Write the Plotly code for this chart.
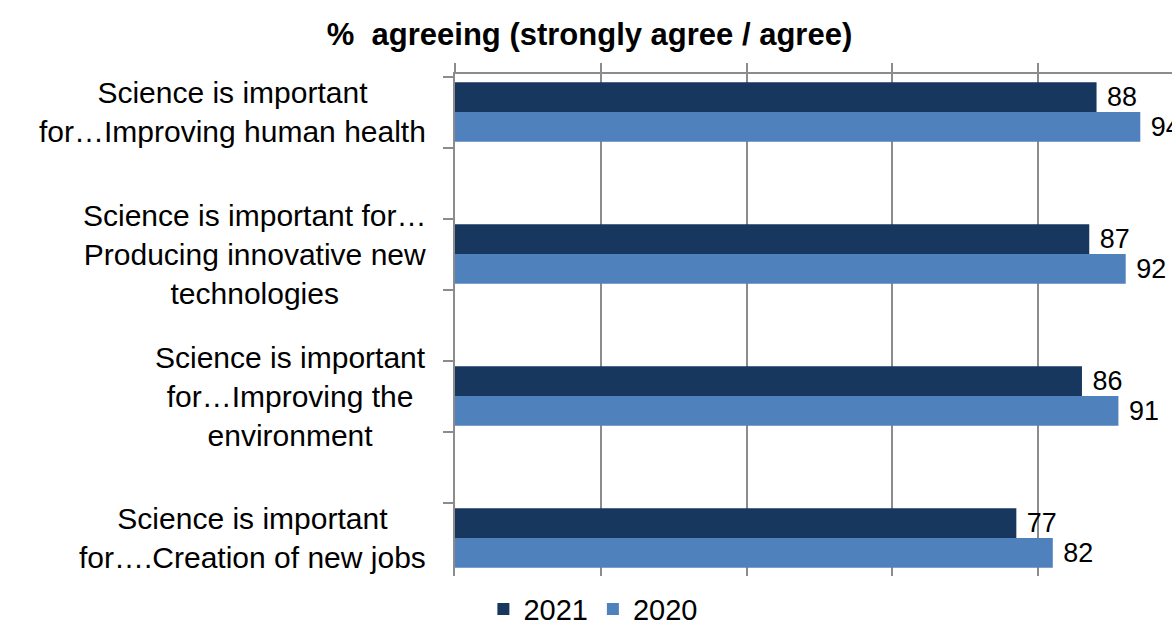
import plotly.graph_objects as go

# Survey statements (top to bottom) and agreement shares
statements = [
    "Science is important<br>for…Improving human health",
    "Science is important for…<br>Producing innovative new<br>technologies",
    "Science is important<br>for…Improving the<br>environment",
    "Science is important<br>for….Creation of new jobs",
]
agree_2021 = [88, 87, 86, 77]
agree_2020 = [94, 92, 91, 82]

# Blank spacer rows between the statements
spacers = [" ", "  ", "   "]
row_order = [statements[0], spacers[0], statements[1], spacers[1],
             statements[2], spacers[2], statements[3]]

FONT = "Liberation Sans, Arial, sans-serif"
GRID = "#8c8c8c"
DARK = "#17375E"
LIGHT = "#4F81BD"

fig = go.Figure()
fig.add_trace(go.Bar(
    name="2021", y=statements, x=agree_2021, orientation="h",
    marker=dict(color=DARK, line=dict(width=0)),
    text=agree_2021, texttemplate=" %{text}", textposition="outside",
    cliponaxis=False,
    textfont=dict(family=FONT, size=28, color="#000000"),
))
fig.add_trace(go.Bar(
    name="2020", y=statements, x=agree_2020, orientation="h",
    marker=dict(color=LIGHT, line=dict(width=0)),
    text=agree_2020, texttemplate=" %{text}", textposition="outside",
    cliponaxis=False,
    textfont=dict(family=FONT, size=28, color="#000000"),
))

# Statement labels, centred line by line, to the left of the axis
for s in statements:
    fig.add_annotation(
        text=s, xref="paper", yref="y", x=-0.038, y=s,
        xanchor="right", yanchor="middle", align="center", showarrow=False,
        font=dict(family=FONT, size=30, color="#000000"),
    )

fig.update_layout(
    width=1172, height=627,
    margin=dict(l=455, r=0, t=74, b=51, autoexpand=False),
    paper_bgcolor="white", plot_bgcolor="white",
    barmode="group", bargap=0.16, bargroupgap=0,
    title=dict(
        text="<b>%  agreeing (strongly agree / agree)</b>",
        x=0.503, xanchor="center", y=1 - 34 / 627, yanchor="middle",
        font=dict(family=FONT, size=31, color="#000000"),
    ),
    xaxis=dict(
        range=[0, 98.35], dtick=20, side="top",
        showgrid=True, gridcolor=GRID, gridwidth=2,
        showline=True, linecolor=GRID, linewidth=2,
        ticks="outside", ticklen=9, tickcolor=GRID, tickwidth=2,
        showticklabels=False, zeroline=False,
    ),
    yaxis=dict(
        type="category", categoryorder="array", categoryarray=row_order,
        autorange="reversed", tickson="boundaries",
        showgrid=False, showline=True, linecolor=GRID, linewidth=2,
        ticks="outside", ticklen=10, tickcolor=GRID, tickwidth=2,
        showticklabels=False, zeroline=False,
    ),
    legend=dict(
        orientation="h", x=0.193, xanchor="center", y=-0.066, yanchor="middle",
        font=dict(family=FONT, size=29, color="#000000"),
        itemwidth=30, traceorder="normal",
    ),
    showlegend=True,
)

fig.write_html("out.html")
